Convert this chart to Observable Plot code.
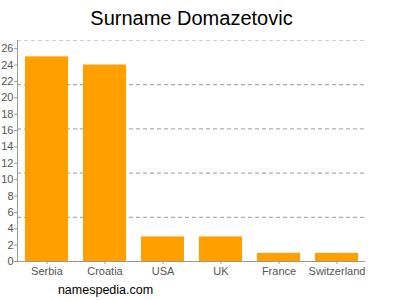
<!DOCTYPE html>
<html>
<head>
<meta charset="utf-8">
<script src="https://cdn.jsdelivr.net/npm/d3@7"></script>
<script src="https://cdn.jsdelivr.net/npm/@observablehq/plot@0.6"></script>
<style>
  html, body { margin: 0; padding: 0; background: #fff; }
  #chart { width: 400px; height: 300px; }
</style>
</head>
<body>
<div id="chart"></div>
<script>
const countries = ["Serbia", "Croatia", "USA", "UK", "France", "Switzerland"];
const counts = [25, 24, 3, 3, 1, 1];
const yTicks = [0, 2, 4, 6, 8, 10, 12, 14, 16, 18, 20, 22, 24, 26];
const gridValues = [5.4, 10.8, 16.2, 21.6];
const topGrid = [27];
const titleText = "Surname Domazetovic";
const captionText = "namespedia.com";

const data = countries.map((c, i) => ({country: c, count: counts[i]}));

const plot = Plot.plot({
  width: 400,
  height: 300,
  marginLeft: 17,
  marginRight: 35,
  marginTop: 40,
  marginBottom: 39,
  style: {fontFamily: "'Liberation Sans', Arial, sans-serif", background: "#fff", overflow: "visible"},
  x: {domain: countries, paddingInner: 0.26, paddingOuter: 0.13, label: null},
  y: {domain: [0, 27], label: null},
  marks: [
    Plot.ruleY(gridValues, {stroke: "#999", strokeDasharray: "4,3", strokeWidth: 1}),
    Plot.ruleY(topGrid, {stroke: "#ccc", strokeDasharray: "4,3", strokeWidth: 1}),
    Plot.barY(data, {x: "country", y: "count", fill: "#ffa000"}),
    Plot.axisY({ticks: yTicks, tickSize: 3, tickPadding: 1, stroke: "#999", color: "#555", fontSize: 11, label: null}),
    Plot.frame({anchor: "left", stroke: "#999"}),
    Plot.axisX({tickSize: 3, tickPadding: 3, stroke: "#999", color: "#555", fontSize: 11, label: null}),
    Plot.ruleY([0], {stroke: "#999"}),
    Plot.text([titleText], {frameAnchor: "top", dy: -30, text: d => d, fontSize: 20, fill: "#000"}),
    Plot.text([captionText], {frameAnchor: "bottom-left", dx: 88, dy: 32, text: d => d, fontSize: 12.5, fill: "#000", textAnchor: "middle"})
  ]
});
document.getElementById("chart").appendChild(plot);
</script>
</body>
</html>
